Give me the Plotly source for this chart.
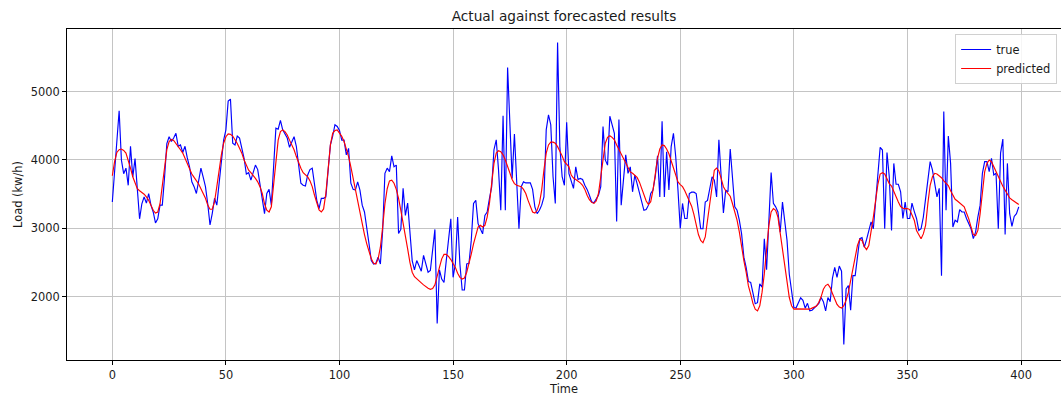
import plotly.graph_objects as go

# Hourly load: measured values and model forecast, 400 time steps
actual_load = [
    3387, 3850, 4290, 4720, 4000, 3800, 3880, 3630, 4200, 3750,
    4020, 3510, 3140, 3360, 3460, 3370, 3510, 3340, 3240, 3080,
    3140, 3340, 3340, 3750, 4240, 4340, 4270, 4320, 4390, 4200,
    4220, 4110, 4200, 4030, 3900, 3680, 3610, 3510, 3710, 3880,
    3750, 3610, 3360, 3050, 3220, 3440, 3340, 3660, 4000, 4290,
    4440, 4860, 4890, 4245, 4220, 4350, 4320, 4170, 4025, 3795,
    3815, 3705, 3830, 3925, 3860, 3660, 3410, 3215, 3510, 3570,
    3340, 3975, 4465, 4450, 4580, 4440, 4390, 4320, 4185, 4270,
    4340, 4200, 3950, 3660, 3630, 3620, 3780, 3860, 3880, 3660,
    3410, 3290, 3440, 3440, 3460, 3850, 4220, 4350, 4515, 4490,
    4430, 4290, 4290, 4075, 4170, 3660, 3570, 3560, 3680, 3560,
    3340, 3240, 2970, 2775, 2530, 2480, 2490, 2580, 2480, 2970,
    3805, 3880, 3830, 4060, 3900, 3925, 2925, 2985, 3585, 3190,
    3370, 2875, 2530, 2395, 2530, 2455, 2375, 2605, 2480, 2360,
    2385, 2680, 2985, 1610, 2395, 2260, 2210, 2530, 2825, 3140,
    2285, 2480, 3165, 2480, 2100, 2100, 2480, 2490, 2825, 3365,
    3410, 3070, 2995, 2920, 3190, 3240, 3435, 3610, 4150, 4295,
    3855, 3265, 4645, 3265, 5350, 4490, 3730, 4380, 3705, 2995,
    3610, 3680, 3665, 3665, 3665, 3570, 3315, 3215, 3265, 3340,
    3460, 4440, 4660, 4515, 3755, 3365, 5715, 4195, 3755, 3630,
    4550, 3800, 3705, 3585, 3900, 3715, 3730, 3715, 3630, 3570,
    3485, 3390, 3375, 3435, 3485, 3610, 4490, 4000, 3925, 4640,
    4515, 4390, 3100, 4590, 3340, 3755, 4075, 3805, 3900, 3535,
    3780, 3655, 3510, 3410, 3265, 3275, 3340, 3510, 3560, 3755,
    4060, 3460, 4565, 3460, 4120, 3560, 4195, 4390, 4050, 3560,
    3000, 3365, 3145, 3145, 3510, 3530, 3530, 3510, 3240, 2995,
    2995, 3385, 3410, 3580, 3755, 3705, 3460, 4295, 3805, 3225,
    3560, 3535, 4160, 3705, 3315, 3265, 3120, 2920, 2580, 2430,
    2225, 2210, 2040, 1900, 1915, 2190, 2140, 2850, 2395, 3020,
    3815, 3365, 3315, 3240, 2945, 3385, 3115, 2825, 2330, 2060,
    1845, 1840, 1920, 1985, 1950, 1835, 1905, 1795, 1805, 1835,
    1865, 1905, 1990, 1930, 1795, 1990, 1930, 2275, 2430, 2285,
    2450, 2375, 1305, 2115, 2165, 1805, 2310, 2310, 2580, 2850,
    2865, 2725, 2835, 2980, 3095, 2995, 3365, 3855, 4185, 4145,
    2995, 4110, 3755, 2970, 3950, 3645, 3645, 3535, 3145, 3385,
    3145, 3145, 3370, 3250, 3145, 2970, 2995, 3165, 3435, 3755,
    3975, 3855, 3655, 3460, 3585, 2310, 4710, 3265, 4350, 3950,
    3020, 3120, 3095, 3275, 3240, 3240, 3145, 3070, 2995, 2850,
    2945, 3165, 3340, 3805, 3975, 3975, 3830, 4025, 3780, 3805,
    2995, 4100, 4305, 2910, 3950, 3215, 3030, 3175, 3215, 3315,
]

predicted_load = [
    3770, 3975, 4110, 4150, 4160, 4140, 4100, 4000, 3880, 3755,
    3660, 3580, 3550, 3525, 3500, 3460, 3410, 3340, 3265, 3225,
    3240, 3360, 3610, 3900, 4150, 4270, 4300, 4285, 4245, 4200,
    4150, 4100, 4025, 3950, 3850, 3795, 3745, 3695, 3650, 3580,
    3510, 3440, 3340, 3280, 3280, 3390, 3610, 3850, 4075, 4245,
    4340, 4380, 4375, 4350, 4300, 4240, 4170, 4100, 4000, 3925,
    3850, 3815, 3780, 3730, 3680, 3610, 3510, 3360, 3265, 3240,
    3315, 3610, 4000, 4290, 4415, 4440, 4415, 4365, 4290, 4220,
    4150, 4050, 3950, 3880, 3815, 3780, 3755, 3695, 3610, 3485,
    3360, 3270, 3240, 3285, 3510, 3850, 4220, 4390, 4430, 4440,
    4400, 4345, 4270, 4170, 4050, 3900, 3730, 3560, 3390, 3215,
    3070, 2910, 2775, 2650, 2555, 2490, 2480, 2555, 2725, 3020,
    3360, 3580, 3695, 3705, 3660, 3570, 3440, 3265, 3095, 2900,
    2700, 2505, 2360, 2295, 2260, 2235, 2205, 2175, 2145, 2125,
    2110, 2120, 2175, 2285, 2430, 2555, 2620, 2620, 2590, 2545,
    2490, 2430, 2345, 2285, 2260, 2275, 2360, 2480, 2625, 2775,
    2920, 3020, 3045, 3020, 3045, 3165, 3365, 3655, 3950, 4100,
    4135, 4120, 4075, 4000, 3900, 3805, 3715, 3655, 3630, 3620,
    3610, 3570, 3510, 3410, 3315, 3240, 3225, 3265, 3365, 3560,
    3855, 4100, 4220, 4260, 4260, 4245, 4195, 4135, 4060, 3975,
    3940, 3900, 3780, 3735, 3715, 3695, 3665, 3630, 3570, 3485,
    3420, 3380, 3365, 3400, 3510, 3755, 4025, 4245, 4330, 4355,
    4330, 4295, 4220, 4150, 4085, 4015, 3950, 3885, 3825, 3805,
    3780, 3745, 3680, 3585, 3485, 3400, 3350, 3390, 3560, 3825,
    4025, 4160, 4220, 4210, 4160, 4090, 3990, 3880, 3780, 3680,
    3640, 3610, 3550, 3480, 3410, 3325, 3205, 3045, 2910, 2825,
    2790, 2875, 3120, 3385, 3655, 3850, 3880, 3840, 3730, 3610,
    3550, 3510, 3470, 3360, 3240, 3120, 2950, 2725, 2530, 2360,
    2160, 2040, 1905, 1820, 1795, 1870, 2065, 2335, 2725, 3045,
    3240, 3290, 3265, 3165, 2930, 2675, 2430, 2185, 1990, 1870,
    1820, 1825, 1825, 1815, 1820, 1815, 1820, 1820, 1835, 1845,
    1865, 1920, 2000, 2110, 2165, 2185, 2135, 2050, 1965, 1890,
    1850, 1835, 1870, 1950, 2065, 2245, 2405, 2580, 2750, 2840,
    2825, 2735, 2690, 2750, 2945, 3165, 3410, 3645, 3795, 3815,
    3795, 3715, 3655, 3620, 3535, 3460, 3385, 3320, 3295, 3290,
    3290, 3275, 3190, 3120, 2970, 2900, 2850, 2920, 3045, 3365,
    3630, 3755, 3805, 3795, 3770, 3740, 3695, 3655, 3625, 3550,
    3475, 3425, 3400, 3375, 3350, 3315, 3225, 3140, 3020, 2910,
    2895, 2970, 3215, 3580, 3825, 3950, 4000, 3975, 3900, 3815,
    3740, 3675, 3615, 3560, 3500, 3445, 3420, 3400, 3380, 3350,
]

time_steps = list(range(len(actual_load)))
x_ticks = [0, 50, 100, 150, 200, 250, 300, 350, 400]
y_ticks = [2000, 3000, 4000, 5000]

FONT = "DejaVu Sans"
TEXT = "#1a1a1a"
GRID = "#c4c4c4"
SIZE = 11.4

fig = go.Figure()
fig.add_trace(go.Scatter(x=time_steps, y=actual_load, mode="lines", name="true",
                         line=dict(color="#0000ff", width=1.15)))
fig.add_trace(go.Scatter(x=time_steps, y=predicted_load, mode="lines", name="predicted",
                         line=dict(color="#ff0000", width=1.15)))

fig.update_layout(
    width=1061, height=399,
    margin=dict(l=67, r=0, t=29, b=39),
    paper_bgcolor="white", plot_bgcolor="white",
    font=dict(family=FONT, size=SIZE, color=TEXT),
    title=dict(text="Actual against forecasted results", x=0.5, xref="paper",
               xanchor="center", y=1 - 16 / 399, yref="container", yanchor="middle",
               font=dict(family=FONT, size=13.7, color=TEXT)),
    legend=dict(x=0.8935, xanchor="left", y=0.985, yanchor="top",
                bgcolor="rgba(255,255,255,0.85)", bordercolor="#d0d0d0", borderwidth=1,
                font=dict(family=FONT, size=SIZE, color=TEXT), itemwidth=30,
                tracegroupgap=0),
    showlegend=True,
)

fig.update_xaxes(
    range=[-19.95, 417.6], tickvals=x_ticks, ticks="outside", ticklen=4,
    tickwidth=1, tickcolor="black", showline=True, linecolor="black", linewidth=1,
    mirror=True, showgrid=True, gridcolor=GRID, gridwidth=1, zeroline=False,
    title=dict(text="Time", standoff=3, font=dict(family=FONT, size=SIZE, color=TEXT)),
)
fig.update_yaxes(
    range=[1077, 5914], tickvals=y_ticks, ticks="outside", ticklen=4,
    tickwidth=1, tickcolor="black", showline=True, linecolor="black", linewidth=1,
    mirror=False, showgrid=True, gridcolor=GRID, gridwidth=1, zeroline=False,
    title=dict(text="Load (kw/h)", standoff=5, font=dict(family=FONT, size=SIZE, color=TEXT)),
)

fig.write_html("out.html")
